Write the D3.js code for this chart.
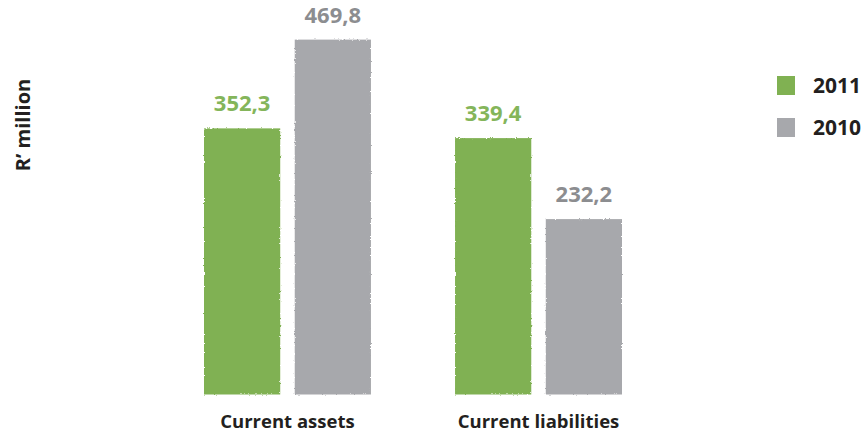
<!DOCTYPE html>
<html>
<head>
<meta charset="utf-8">
<script src="https://cdn.jsdelivr.net/npm/d3@7/dist/d3.min.js"></script>
<style>
  html, body { margin: 0; padding: 0; background: #fff; }
  svg { display: block; font-family: "Open Sans", "Noto Sans", sans-serif; }
</style>
</head>
<body>
<svg id="chart" width="864" height="432"></svg>
<script>
// Data
const categories = ["Current assets", "Current liabilities"];
const seriesNames = ["2011", "2010"];
const values2011 = [352.3, 339.4];
const values2010 = [469.8, 232.2];
const valueLabels2011 = ["352,3", "339,4"];
const valueLabels2010 = ["469,8", "232,2"];

const colors = { "2011": "#80b152", "2010": "#a7a8ac" };
const labelColors = { "2011": "#84b55a", "2010": "#8c8d90" };

const svg = d3.select("#chart");

// Soft ragged edge for the painted-looking bars
const defs = svg.append("defs");
const filt = defs.append("filter").attr("id", "rough")
  .attr("x", "-5%").attr("y", "-5%").attr("width", "110%").attr("height", "110%");
filt.append("feTurbulence").attr("type", "fractalNoise")
  .attr("baseFrequency", 0.6).attr("numOctaves", 2).attr("seed", 3).attr("result", "noise");
filt.append("feDisplacementMap").attr("in", "SourceGraphic").attr("in2", "noise")
  .attr("scale", 2.5).attr("xChannelSelector", "R").attr("yChannelSelector", "G");

const baseY = 394.5;
const y = d3.scaleLinear().domain([0, 500]).range([baseY, baseY - 377.7]);

const x0 = d3.scaleBand().domain(categories).range([204, 622]).paddingInner(0.335).paddingOuter(0);
const x1 = d3.scaleBand().domain(seriesNames).range([0, x0.bandwidth()]).paddingInner(0.16);

const rows = categories.map((c, i) => ({
  category: c,
  bars: [
    { series: "2011", value: values2011[i], label: valueLabels2011[i] },
    { series: "2010", value: values2010[i], label: valueLabels2010[i] }
  ]
}));

const groups = svg.selectAll("g.group").data(rows).join("g")
  .attr("class", "group")
  .attr("transform", d => `translate(${x0(d.category)},0)`);

groups.selectAll("rect").data(d => d.bars).join("rect")
  .attr("x", d => x1(d.series))
  .attr("y", d => y(d.value))
  .attr("width", x1.bandwidth())
  .attr("height", d => y(0) - y(d.value))
  .attr("fill", d => colors[d.series])
  .attr("filter", "url(#rough)");

groups.selectAll("text.val").data(d => d.bars).join("text")
  .attr("class", "val")
  .attr("x", d => x1(d.series) + x1.bandwidth() / 2)
  .attr("y", d => y(d.value) - 17)
  .attr("text-anchor", "middle")
  .attr("font-size", 22)
  .attr("font-weight", 700)
  .attr("fill", d => labelColors[d.series])
  .text(d => d.label);

// Category labels
groups.append("text")
  .attr("x", x0.bandwidth() / 2)
  .attr("y", 428)
  .attr("text-anchor", "middle")
  .attr("font-size", 18.5)
  .attr("font-weight", 700)
  .attr("fill", "#231f20")
  .text(d => d.category);

// Axis title
svg.append("text")
  .attr("transform", "translate(30,125) rotate(-90)")
  .attr("text-anchor", "middle")
  .attr("font-size", 20)
  .attr("font-weight", 700)
  .attr("fill", "#231f20")
  .text("R\u2019 million");

// Legend
const legend = svg.selectAll("g.legend").data(seriesNames).join("g")
  .attr("class", "legend")
  .attr("transform", (d, i) => `translate(777,${76 + i * 42})`);
legend.append("rect")
  .attr("width", 18).attr("height", 19)
  .attr("fill", d => colors[d]);
legend.append("text")
  .attr("x", 36).attr("y", 17)
  .attr("font-size", 21)
  .attr("font-weight", 700)
  .attr("fill", "#231f20")
  .text(d => d);
</script>
</body>
</html>
